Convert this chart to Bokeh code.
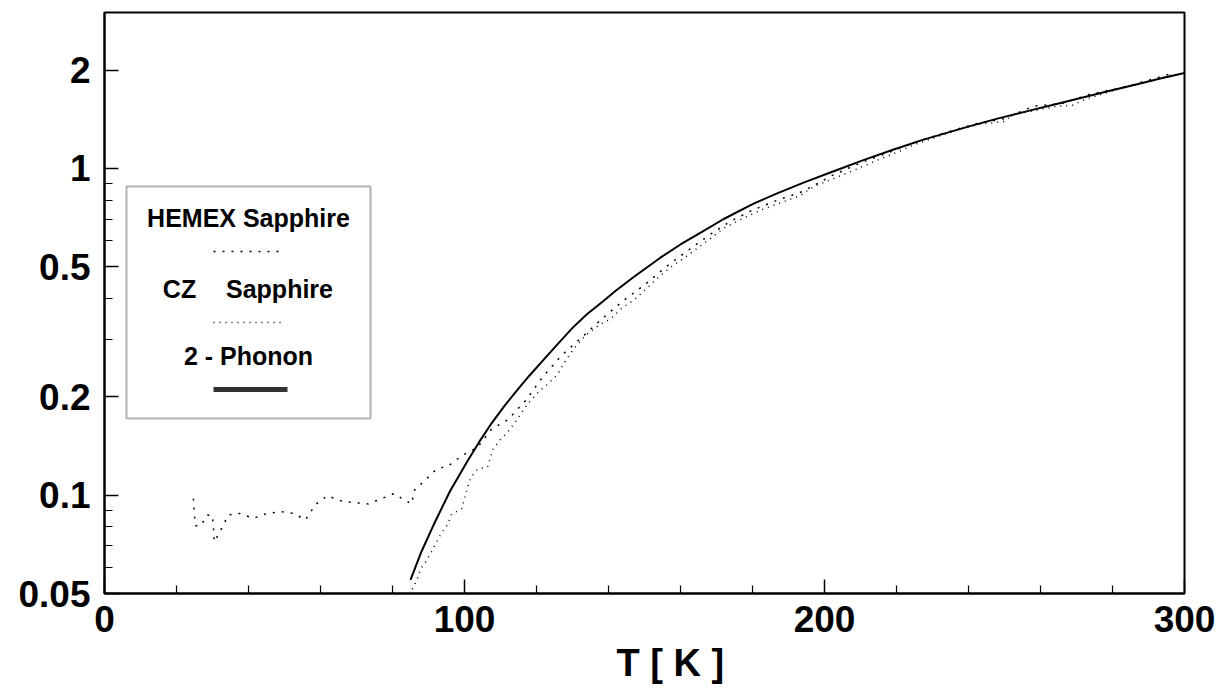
from bokeh.plotting import figure
from bokeh.models import (FixedTicker, CustomJSTickFormatter, Label, BoxAnnotation,
                          Arrow, Range1d, Title)
from bokeh.embed import file_html
from bokeh.resources import INLINE

# ---------------- data ----------------
x_major = [0, 100, 200, 300]
x_minor = [20, 40, 60, 80, 120, 140, 160, 180, 220, 240, 260, 280]
y_major = [0.05, 0.1, 0.2, 0.5, 1, 2]
y_minor = [0.06, 0.07, 0.08, 0.09, 0.3, 0.4, 0.6, 0.7, 0.8, 0.9]

hemex_T = [24.7, 24.9, 25.3, 26.7, 28.6, 30.0, 30.3, 30.5, 32.0, 34.4, 37.2, 41.4,
           45.3, 48.9, 52.5, 55.8, 58.6, 61.9, 65.8, 68.9, 73.3, 80.3, 85.3, 86.1,
           92.2, 95.6, 99.2, 103.6, 107.5, 112, 117, 122, 127, 132, 138, 144, 150,
           156, 162, 168, 174, 180, 187, 194, 202, 210, 218, 226, 234, 242, 250,
           258, 266, 274, 282, 290, 297]
hemex_v = [0.0976, 0.0884, 0.0806, 0.0806, 0.087, 0.0866, 0.0783, 0.072, 0.077, 0.087,
           0.088, 0.085, 0.088, 0.089, 0.088, 0.084, 0.0935, 0.0996, 0.096, 0.095,
           0.094, 0.101, 0.094, 0.1035, 0.120, 0.123, 0.132, 0.140, 0.159, 0.170,
           0.195, 0.232, 0.268, 0.300, 0.345, 0.393, 0.440, 0.500, 0.560, 0.625,
           0.690, 0.745, 0.800, 0.850, 0.950, 1.04, 1.12, 1.21, 1.29, 1.37, 1.42,
           1.55, 1.58, 1.69, 1.76, 1.86, 1.96]

cz_T = [85.5, 86.9, 87.8, 89.2, 90.8, 93.3, 95.2, 96.4, 99.2, 100.8, 101.7, 103.6,
        106.4, 108, 110, 112.2, 114.2, 117.5, 120.8, 123, 125.8, 128, 130.3, 134,
        137.8, 140.6, 143.9, 147, 150.8, 154.4, 158, 160.8, 164.7, 168.3, 171.9,
        175.8, 179.4, 183, 187.8, 193.3, 197, 202.5, 208, 214.7, 221, 224.7, 232.2,
        238.6, 244, 249.7, 252.5, 258, 264.7, 268.9, 272, 279.4, 285.8, 291.4, 297]
cz_v = [0.0515, 0.0554, 0.0594, 0.0624, 0.067, 0.0755, 0.081, 0.0872, 0.0909, 0.105,
        0.113, 0.120, 0.122, 0.139, 0.148, 0.157, 0.168, 0.190, 0.208, 0.218, 0.234,
        0.257, 0.280, 0.311, 0.334, 0.346, 0.375, 0.395, 0.431, 0.47, 0.505, 0.530,
        0.570, 0.610, 0.655, 0.690, 0.720, 0.750, 0.785, 0.826, 0.88, 0.93, 0.985,
        1.06, 1.13, 1.18, 1.26, 1.33, 1.37, 1.39, 1.46, 1.50, 1.55, 1.56, 1.62,
        1.72, 1.80, 1.86, 1.94]

phonon_T = [85, 88, 91.4, 96, 100.8, 104, 107.2, 111, 114.7, 118, 122, 126, 130,
            134, 138.6, 142, 147, 154.4, 160, 165.6, 172, 180.3, 187, 194.2, 202,
            210.8, 219, 227.5, 239.7, 248, 257.2, 265, 272, 279, 286, 293, 300]
phonon_v = [0.055, 0.067, 0.081, 0.103, 0.127, 0.145, 0.164, 0.187, 0.210, 0.232,
            0.260, 0.291, 0.325, 0.358, 0.393, 0.422, 0.465, 0.533, 0.585, 0.636,
            0.700, 0.780, 0.840, 0.905, 0.975, 1.06, 1.14, 1.225, 1.34, 1.42,
            1.505, 1.58, 1.65, 1.725, 1.80, 1.88, 1.96]

legend_names = ["HEMEX Sapphire", "CZ", "Sapphire", "2 - Phonon"]
x_title = "T [ K ]"

FONT = "Liberation Sans"

p = figure(width=1221, height=695, y_axis_type="log",
           x_range=Range1d(0, 300), y_range=Range1d(0.05, 3.0),
           output_backend="svg", toolbar_location=None,
           min_border_left=104, min_border_right=37,
           min_border_top=12, min_border_bottom=102)
p.background_fill_color = "white"
p.border_fill_color = "white"
p.grid.visible = False
p.outline_line_color = "black"
p.outline_line_width = 2

for ax in (p.xaxis[0], p.yaxis[0]):
    ax.axis_line_color = "black"
    ax.axis_line_width = 2
    ax.major_tick_in = 14
    ax.major_tick_out = 0
    ax.minor_tick_in = 8
    ax.minor_tick_out = 0
    ax.major_tick_line_width = 1.5
    ax.minor_tick_line_width = 1.2
    ax.major_label_text_font = FONT
    ax.major_label_text_font_style = "bold"
    ax.major_label_text_font_size = "37px"
    ax.major_label_text_color = "black"

p.xaxis.ticker = FixedTicker(ticks=x_major, minor_ticks=x_minor)
p.yaxis.ticker = FixedTicker(ticks=y_major, minor_ticks=y_minor)
p.yaxis.formatter = CustomJSTickFormatter(code="return String(tick)")
p.xaxis.formatter = CustomJSTickFormatter(code="return String(tick)")
p.xaxis.major_label_standoff = 12
p.yaxis.major_label_standoff = 14

# data
p.line(hemex_T, hemex_v, line_color="black", line_width=1.5, line_dash="2 7")
p.line(cz_T, cz_v, line_color="black", line_width=1.5, line_dash="1 5")
p.line(phonon_T, phonon_v, line_color="black", line_width=2)

# x-axis title (offset to match the original's position)
p.add_layout(Title(text=x_title, align="left", offset=512, standoff=10,
                   text_font=FONT, text_font_style="bold", text_font_size="38px",
                   text_color="black"), "below")

# legend (manual, stacked layout like the original)
p.add_layout(BoxAnnotation(left=22, right=266, bottom=175, top=407,
                           left_units="screen", right_units="screen",
                           bottom_units="screen", top_units="screen",
                           fill_color="white", fill_alpha=1.0,
                           line_color="black", line_width=2, level="annotation"))
label_pos = [(144, 376), (75, 305), (175, 305), (144, 238)]
for name, (lx, ly) in zip(legend_names, label_pos):
    p.add_layout(Label(x=lx, y=ly, x_units="screen", y_units="screen", text=name,
                       text_font=FONT, text_font_style="bold", text_font_size="25px",
                       text_align="center", text_baseline="middle", text_color="black"))
p.add_layout(Arrow(end=None, x_start=109, y_start=342, x_end=181, y_end=342,
                   start_units="screen", end_units="screen",
                   line_color="black", line_width=1.5, line_dash="2 7"))
p.add_layout(Arrow(end=None, x_start=109, y_start=271, x_end=181, y_end=271,
                   start_units="screen", end_units="screen",
                   line_color="black", line_width=1.5, line_dash="1 5"))
p.add_layout(Arrow(end=None, x_start=109, y_start=204, x_end=183, y_end=204,
                   start_units="screen", end_units="screen",
                   line_color="#333333", line_width=5))

open("out.html", "w").write(file_html(p, INLINE))
